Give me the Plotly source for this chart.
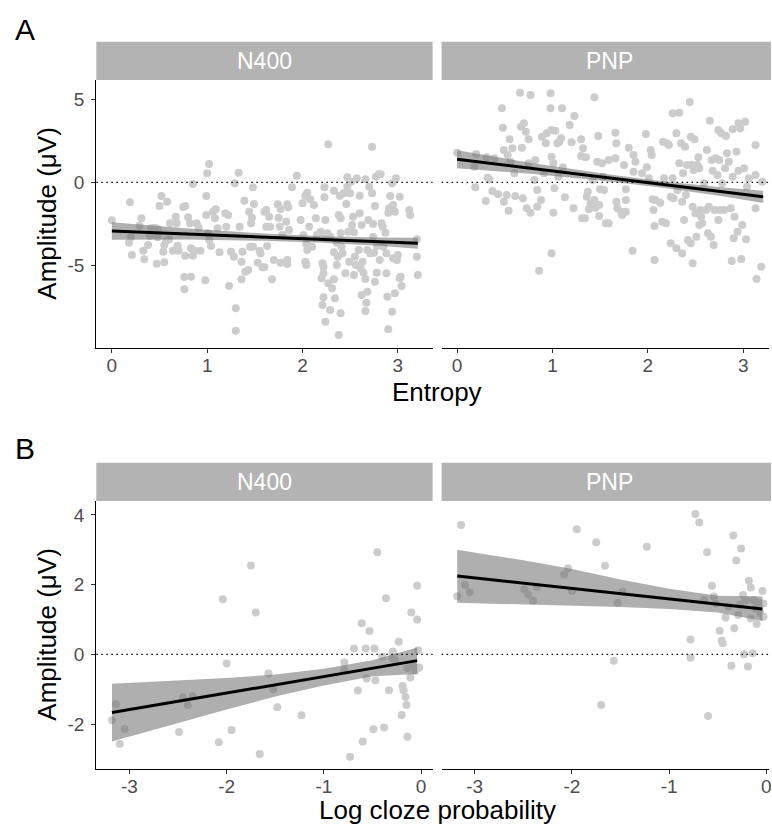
import plotly.graph_objects as go

# ---------------- data ----------------
# Panel A, N400 vs entropy
n400_entropy_x = [
    0.00,0.19,0.31,0.29,0.20,0.18,0.21,0.33,0.34,0.38,
    0.40,0.41,0.45,0.48,0.48,0.47,0.50,0.52,0.55,0.54,
    0.55,0.57,0.58,0.60,0.61,0.64,0.67,0.68,0.69,0.70,
    0.75,0.77,0.76,0.83,0.76,0.77,0.80,0.82,0.83,0.85,
    0.87,0.85,0.89,0.91,0.93,0.98,0.99,1.00,1.02,0.99,
    1.01,1.02,1.04,1.06,1.08,1.09,1.11,1.13,1.19,1.22,
    1.20,1.23,1.25,1.28,1.29,1.33,1.30,1.30,1.34,1.36,
    1.37,1.36,1.39,1.40,1.43,1.44,1.45,1.46,1.47,1.48,
    1.48,1.49,1.53,1.55,1.56,1.58,1.62,1.62,
    1.60,1.65,1.66,1.63,1.60,1.68,1.74,1.75,1.76,1.77,
    1.79,1.84,1.85,1.83,1.86,1.70,1.77,1.84,1.84,1.89,
    1.94,1.98,2.00,2.01,2.03,2.04,2.05,2.05,2.07,2.08,
    2.10,2.12,2.03,2.04,2.14,2.15,2.19,2.21,2.22,2.22,
    2.20,2.23,2.23,2.24,2.24,2.26,2.27,2.29,2.27,2.31,
    2.33,2.33,2.34,2.36,2.37,2.36,2.22,2.21,2.29,2.24,
    2.33,2.38,2.39,2.40,2.40,2.41,2.42,2.43,2.40,2.38,
    2.45,2.46,2.47,2.47,2.48,2.49,2.50,2.51,2.52,2.53,
    2.54,2.54,2.55,2.56,2.57,2.59,2.60,2.60,2.61,2.62,
    2.63,2.64,2.62,2.66,2.66,2.67,2.68,2.68,2.69,2.70,
    2.66,2.71,2.73,2.73,2.74,2.74,2.75,2.76,2.76,2.77,
    2.78,2.78,2.80,2.81,2.82,2.83,2.84,2.85,2.87,2.88,
    2.88,2.89,2.90,2.91,2.92,2.94,2.94,2.95,2.95,2.97,
    2.98,2.99,3.00,3.02,2.97,3.02,3.03,3.04,2.90,3.12,
    3.13,3.20,3.20,3.21,
]
n400_entropy_y = [
    -2.28,-1.2,-2.16,-2.6,-3.3,-3.62,-4.36,-4.1,-4.62,-3.76,
    -3.22,-2.76,-2.72,-2.8,-3.3,-4.88,-1.42,-0.82,-4.8,-4.16,
    -3.76,-3.52,-1.16,-3.42,-2.46,-4.1,-2.06,-2.46,-3.8,-4.1,
    -1.48,-1.42,-5.68,-5.66,-6.42,-4.4,-2.1,-2.46,-3.96,-4.4,
    -4.1,-0.1,-2.46,-2.72,-4.1,-5.88,-0.82,0.54,1.1,-1.96,
    -3.06,-3.46,-3.82,-1.76,-2.16,-1.62,-2.76,-4.2,-1.86,-1.96,
    -2.66,-6.22,-4.16,-4.46,-0.06,0.58,-7.56,-8.9,-2.66,-4.76,
    -4.16,-5.82,-1.1,-5.36,-5.26,-1.76,-3.86,-2.46,-2.12,-3.86,
    -0.3,-1.3,-4.82,-4.1,-4.26,-5.1,-1.66,-2.66,
    -1.76,-2.06,-2.66,-3.82,-5.1,-5.82,-1.32,-2.12,-2.66,-1.6,
    -3.16,-1.32,-1.5,-2.36,-2.86,-4.66,-4.82,-4.66,-4.9,-0.3,
    0.4,-2.26,-1.26,-3.16,-0.82,-3.72,-4.06,-0.62,-2.66,-1.02,
    -3.86,-1.36,-4.76,-4.96,-2.16,-3.16,-2.96,-4.86,-5.06,-5.46,
    -5.76,-0.3,-0.9,-2.26,-3.26,-3.06,2.28,-3.26,-6.06,-6.36,
    -5.82,-4.2,-6.96,-4.96,-4.46,-3.62,-6.9,-7.36,-7.66,-8.36,
    -0.5,-1.96,-0.8,-3.06,-2.16,-3.86,-4.26,-0.66,-7.86,-9.16,
    -5.46,-1.3,-0.26,0.3,-2.96,-4.76,-0.66,0.04,-2.56,-2.06,
    -5.56,-3.0,-4.46,-4.96,0.24,-4.06,-1.86,-0.8,-5.16,-2.56,
    -4.76,-5.42,-6.76,0.18,-5.8,-7.22,-4.06,-6.56,-2.26,-0.26,
    -7.72,-4.26,2.14,-0.66,-2.5,-3.26,-4.22,-1.42,-5.96,0.34,
    -5.42,-3.82,0.48,-4.66,0.48,-2.46,-2.66,-3.86,-3.02,-5.46,
    -4.26,-6.86,-1.82,-1.56,-0.82,-7.76,-0.06,-4.56,-1.36,-1.76,
    0.24,-4.66,-4.36,-5.76,-6.66,-0.86,-5.66,-6.22,-8.82,-1.66,
    -1.96,-3.42,-4.46,-5.56,
]
# Panel A, PNP vs entropy
pnp_entropy_x = [
    0.00,0.18,0.20,0.19,0.30,0.32,0.34,0.31,0.37,0.39,
    0.43,0.47,0.48,0.49,0.49,0.52,0.53,0.54,0.55,0.56,
    0.58,0.60,0.61,0.66,0.67,0.68,0.69,0.70,0.72,0.73,
    0.75,0.75,0.77,0.77,0.81,0.82,0.84,0.86,0.84,0.88,
    0.89,0.91,0.93,0.94,0.98,0.98,0.99,0.99,0.99,1.01,
    1.02,1.01,1.03,1.05,1.06,1.07,1.09,1.10,1.11,1.13,
    1.18,1.20,1.22,1.23,1.30,1.30,1.31,1.32,1.34,1.35,
    1.36,1.37,1.38,1.40,1.42,1.44,1.44,1.45,1.47,1.48,
    1.49,1.49,1.50,1.52,1.56,
    1.53,1.54,1.59,1.59,1.66,1.67,1.66,1.67,1.68,1.72,
    1.73,1.77,1.75,1.77,1.77,1.80,1.84,1.85,1.85,1.87,
    1.94,1.98,1.99,2.01,2.03,2.04,2.05,2.06,2.07,2.07,
    2.08,2.13,2.15,2.16,2.17,2.19,2.20,2.22,2.24,2.24,
    2.26,2.26,2.27,2.30,2.30,2.31,2.33,2.33,2.35,2.36,
    2.36,2.37,2.38,2.39,2.40,2.41,2.42,2.44,2.45,2.45,
    2.46,2.47,2.47,2.48,2.49,2.50,2.51,2.52,2.53,2.54,
    2.54,2.55,2.56,2.57,2.59,2.61,2.62,2.63,2.64,2.65,
    2.66,2.67,2.68,2.69,2.70,2.71,2.73,2.74,2.74,2.75,
    2.76,2.77,2.78,2.80,2.81,2.82,2.83,2.85,2.87,2.88,
    2.89,2.89,2.90,2.91,2.93,2.94,2.95,2.95,2.97,2.98,
    2.99,3.01,3.02,3.03,3.04,3.06,3.13,3.13,3.13,3.14,
    3.19,3.20,
]
pnp_entropy_y = [
    1.78,0.94,1.7,-0.3,-1.12,0.28,0.18,1.5,-0.52,1.44,
    -0.72,4.44,3.28,-1.16,1.94,-0.76,1.64,-1.7,2.58,1.24,
    2.04,0.54,-0.82,5.38,3.34,2.08,-0.96,3.54,3.04,-1.56,
    1.14,2.58,-1.82,5.24,0.14,1.34,-1.46,-5.3,-0.46,-1.06,
    2.74,0.54,2.34,2.94,5.34,4.44,1.54,-4.26,3.14,-1.82,
    -0.36,1.14,3.1,2.34,0.34,2.44,2.64,4.44,0.9,-0.9,
    3.44,2.4,-1.56,3.98,2.58,1.58,-2.16,2.04,-2.16,1.5,
    -0.86,-0.56,-1.62,-1.26,0.14,-1.06,5.1,-1.52,1.24,2.78,
    -1.36,-2.02,-0.42,1.14,-2.46,
    0.34,-0.46,-2.46,1.34,2.98,2.34,1.44,-1.16,-1.56,-1.76,
    -1.96,-1.76,1.04,-1.06,-0.42,2.08,-4.1,1.64,0.64,1.24,
    0.54,2.9,0.9,0.24,1.94,1.64,-1.02,-1.66,-2.62,-4.66,
    -1.06,-1.22,-2.36,2.44,0.24,-2.46,2.34,2.24,-0.86,-3.66,
    4.14,0.24,-0.96,-3.96,2.94,-0.46,4.18,1.14,2.34,-4.26,
    -1.16,0.54,-2.26,2.14,-0.76,1.04,-3.46,4.82,2.74,-3.66,
    1.04,-1.46,-4.86,0.74,2.58,-1.86,-3.26,1.04,1.5,-2.56,
    0.84,-1.66,-2.06,-2.46,-0.06,-1.66,1.94,-3.06,-1.46,3.7,
    -3.26,1.34,0.7,-3.76,-1.66,1.44,0.44,-2.26,3.14,1.34,
    -1.66,2.94,-0.06,-1.66,0.84,2.78,1.74,1.24,-1.56,-4.72,
    3.18,0.34,-3.36,-2.06,1.84,-2.96,3.54,0.7,3.24,-4.6,
    -2.56,0.84,3.64,-3.42,-0.26,0.24,2.24,0.44,-1.56,-5.8,
    -5.06,0.04,
]
# Panel B, N400 vs log cloze probability
n400_cloze_x = [
    -3.18,-3.14,-3.10,-3.05,-2.49,-2.45,-2.40,-2.35,-2.08,-2.04,
    -2.00,-1.95,-1.75,-1.70,-1.66,-1.57,-1.52,-1.48,-1.23,-0.79,
    -0.79,-0.73,-0.69,-0.65,-0.61,-0.60,-0.57,-0.56,-0.53,-0.49,
    -0.48,-0.47,-0.45,-0.40,-0.38,-0.36,-0.33,-0.30,-0.29,-0.27,
    -0.23,-0.20,-0.19,-0.18,-0.16,-0.15,-0.14,-0.14,-0.11,-0.10,
    -0.08,-0.04,-0.04,-0.03,-0.04,-0.06,-0.02,
]
n400_cloze_y = [
    -1.89,-1.43,-2.57,-2.14,-2.23,-1.23,-1.45,-1.2,-2.52,1.58,
    -0.26,-2.17,2.55,1.2,-2.86,-0.55,-1.0,-1.52,-1.75,-0.23,
    -0.45,-2.94,0.17,-1.04,0.89,-2.5,0.17,-0.69,0.67,-2.15,
    0.17,-0.74,2.93,-0.07,-2.1,1.61,-1.03,-0.09,0.08,-0.16,
    0.36,-1.74,-0.91,-1.04,-1.22,-1.45,-2.36,-0.4,-0.66,1.2,
    -0.35,1.97,1.0,0.12,-0.4,-0.47,-0.38,
]
# Panel B, PNP vs log cloze probability
pnp_cloze_x = [
    -3.18,-3.14,-3.10,-3.05,-2.49,-2.45,-2.40,-2.36,-2.08,-2.04,
    -2.00,-1.95,-1.75,-1.70,-1.66,-1.57,-1.53,-1.48,-1.23,-0.78,
    -0.78,-0.73,-0.69,-0.64,-0.61,-0.60,-0.56,-0.54,-0.52,-0.48,
    -0.46,-0.45,-0.42,-0.39,-0.36,-0.34,-0.33,-0.31,-0.29,-0.27,
    -0.26,-0.24,-0.23,-0.21,-0.19,-0.18,-0.16,-0.16,-0.14,-0.13,
    -0.11,-0.10,-0.08,-0.06,-0.04,-0.03,-0.03,
]
pnp_cloze_y = [
    1.67,3.71,1.99,1.78,1.87,1.72,1.54,1.94,2.29,2.47,
    1.82,3.59,3.22,-1.45,2.54,-0.18,1.48,1.8,3.09,0.43,
    -0.1,4.03,3.78,1.56,2.93,-1.77,1.97,1.66,1.46,0.68,
    0.39,0.32,1.06,1.37,-0.33,3.41,0.75,2.69,1.13,1.42,
    3.04,1.7,0.0,1.56,-0.35,2.11,1.92,1.03,0.03,1.56,
    1.32,0.87,1.48,1.18,1.82,1.46,1.08,
]

# fitted lines and confidence bands
entropy_fit_x = [0.0, 0.8, 1.6, 2.2, 2.8, 3.21]
n400_entropy_fit = [-2.92, -3.10, -3.29, -3.43, -3.56, -3.66]
n400_entropy_upper = [-2.40, -2.77, -3.07, -3.23, -3.31, -3.33]
n400_entropy_lower = [-3.44, -3.43, -3.51, -3.63, -3.81, -3.99]
pnp_entropy_fit = [1.38, 0.82, 0.26, -0.16, -0.58, -0.87]
pnp_entropy_upper = [1.92, 1.14, 0.47, 0.04, -0.31, -0.50]
pnp_entropy_lower = [0.84, 0.50, 0.05, -0.36, -0.85, -1.24]

cloze_fit_x = [-3.18, -2.5, -2.0, -1.5, -1.0, -0.5, -0.04]
n400_cloze_fit = [-1.67, -1.35, -1.11, -0.87, -0.64, -0.40, -0.18]
n400_cloze_upper = [-0.84, -0.76, -0.68, -0.58, -0.41, -0.17, 0.20]
n400_cloze_lower = [-2.50, -1.97, -1.58, -1.21, -0.89, -0.63, -0.56]
pnp_cloze_fit = [2.25, 2.04, 1.89, 1.74, 1.59, 1.44, 1.30]
pnp_cloze_upper = [3.00, 2.70, 2.45, 2.15, 1.88, 1.68, 1.66]
pnp_cloze_lower = [1.48, 1.44, 1.40, 1.36, 1.30, 1.20, 0.96]

entropy_ticks = [0, 1, 2, 3]
cloze_ticks = [-3, -2, -1, 0]
cloze_tick_text = ["-3", "-2", "-1", "0"]
amp_ticks_a = [-5, 0, 5]
amp_tick_text_a = ["-5", "0", "5"]
amp_ticks_b = [-2, 0, 2, 4]
amp_tick_text_b = ["-2", "0", "2", "4"]
facet_labels = ["N400", "PNP"]

# ---------------- figure ----------------
W, H = 772, 825
FONT = "Liberation Sans, Arial, sans-serif"
POINT_COL = "#cccccc"
BAND_COL = "rgba(110,110,110,0.55)"


def fx(p):
    return p / W


def fy(p):
    return 1 - p / H


LX0, LX1 = 96.7, 434.3
RX0 = 443.3
TY0, TY1 = 80.0, 347.7
BY0, BY1 = 501.0, 768.7

fig = go.Figure()

panels = [
    ("x", "y", n400_entropy_x, n400_entropy_y, entropy_fit_x, n400_entropy_fit, n400_entropy_upper, n400_entropy_lower),
    ("x2", "y2", pnp_entropy_x, pnp_entropy_y, entropy_fit_x, pnp_entropy_fit, pnp_entropy_upper, pnp_entropy_lower),
    ("x3", "y3", n400_cloze_x, n400_cloze_y, cloze_fit_x, n400_cloze_fit, n400_cloze_upper, n400_cloze_lower),
    ("x4", "y4", pnp_cloze_x, pnp_cloze_y, cloze_fit_x, pnp_cloze_fit, pnp_cloze_upper, pnp_cloze_lower),
]

for xa, ya, px, py, fxv, fit, up, lo in panels:
    fig.add_trace(go.Scatter(x=px, y=py, mode="markers", xaxis=xa, yaxis=ya,
                             marker=dict(size=8, color=POINT_COL, line=dict(width=0)),
                             hoverinfo="skip", cliponaxis=True))
    fig.add_trace(go.Scatter(x=fxv + fxv[::-1], y=up + lo[::-1], mode="lines", xaxis=xa, yaxis=ya,
                             fill="toself", fillcolor=BAND_COL, line=dict(width=0),
                             hoverinfo="skip"))
    fig.add_trace(go.Scatter(x=fxv, y=fit, mode="lines", xaxis=xa, yaxis=ya,
                             line=dict(color="black", width=3), hoverinfo="skip"))

base_axis = dict(showgrid=False, zeroline=False, showline=True, linecolor="black", linewidth=1.2,
                 ticks="outside", ticklen=4, tickwidth=1, tickcolor="#333333",
                 tickfont=dict(size=19, color="#4d4d4d", family=FONT), fixedrange=True)
x_axis = dict(base_axis, ticklabelstandoff=-4, ticklabeloverflow="allow")
y_axis = dict(base_axis, ticklabelstandoff=3)

fig.update_layout(
    width=W, height=H, margin=dict(l=0, r=0, t=0, b=0),
    paper_bgcolor="white", plot_bgcolor="white", showlegend=False,
    font=dict(family=FONT),
    xaxis=dict(x_axis, domain=[fx(LX0), fx(LX1)], anchor="y", range=[-0.163, 3.365], tickvals=entropy_ticks),
    yaxis=dict(y_axis, domain=[fy(TY1), fy(TY0)], anchor="x", range=[-9.92, 6.14],
               tickvals=amp_ticks_a, ticktext=amp_tick_text_a),
    xaxis2=dict(x_axis, domain=[fx(RX0), 1.0], anchor="y2", range=[-0.163, 3.271], tickvals=entropy_ticks),
    yaxis2=dict(domain=[fy(TY1), fy(TY0)], anchor="x2", range=[-9.92, 6.14], visible=False, fixedrange=True),
    xaxis3=dict(x_axis, domain=[fx(LX0), fx(LX1)], anchor="y3", range=[-3.341, 0.119],
                tickvals=cloze_ticks, ticktext=cloze_tick_text),
    yaxis3=dict(y_axis, domain=[fy(BY1), fy(BY0)], anchor="x3", range=[-3.28, 4.40],
                tickvals=amp_ticks_b, ticktext=amp_tick_text_b),
    xaxis4=dict(x_axis, domain=[fx(RX0), 1.0], anchor="y4", range=[-3.341, 0.027],
                tickvals=cloze_ticks, ticktext=cloze_tick_text),
    yaxis4=dict(domain=[fy(BY1), fy(BY0)], anchor="x4", range=[-3.28, 4.40], visible=False, fixedrange=True),
)

shapes = []
annotations = []

# facet strips
for (sx0, sx1), (sy0, sy1) in [((LX0, LX1), (41.7, TY0)), ((RX0, W + 2), (41.7, TY0)),
                               ((LX0, LX1), (462.7, BY0)), ((RX0, W + 2), (462.7, BY0))]:
    shapes.append(dict(type="rect", xref="paper", yref="paper", x0=fx(sx0), x1=fx(sx1),
                       y0=fy(sy1), y1=fy(sy0), fillcolor="#b3b3b3", line=dict(width=0), layer="below"))
for cx, cy, lab in [((LX0 + LX1) / 2, 61.0, facet_labels[0]), (612.0, 61.0, facet_labels[1]),
                    ((LX0 + LX1) / 2, 482.0, facet_labels[0]), (612.0, 482.0, facet_labels[1])]:
    annotations.append(dict(text=lab, xref="paper", yref="paper", x=fx(cx), y=fy(cy),
                            xanchor="center", yanchor="middle", showarrow=False,
                            font=dict(size=23, color="white", family=FONT)))

# dotted zero lines
for xa, ya in [("x", "y"), ("x2", "y2"), ("x3", "y3"), ("x4", "y4")]:
    shapes.append(dict(type="line", xref=xa + " domain", yref=ya, x0=0, x1=1, y0=0, y1=0,
                       line=dict(color="black", width=1.2, dash="1.5px,3.5px"), layer="above"))

# axis titles
for cy in [(TY0 + TY1) / 2, (BY0 + BY1) / 2]:
    annotations.append(dict(text="Amplitude (μV)", xref="paper", yref="paper", x=fx(47), y=fy(cy),
                            xanchor="center", yanchor="middle", textangle=-90, showarrow=False,
                            font=dict(size=26, color="black", family=FONT)))
annotations.append(dict(text="Entropy", xref="paper", yref="paper", x=fx(439), y=fy(392),
                        xanchor="center", yanchor="middle", showarrow=False,
                        font=dict(size=26, color="black", family=FONT)))
annotations.append(dict(text="Log cloze probability", xref="paper", yref="paper", x=fx(439), y=fy(810),
                        xanchor="center", yanchor="middle", showarrow=False,
                        font=dict(size=26, color="black", family=FONT)))

# panel letters
annotations.append(dict(text="A", xref="paper", yref="paper", x=fx(25), y=fy(29),
                        xanchor="center", yanchor="middle", showarrow=False,
                        font=dict(size=30, color="black", family=FONT)))
annotations.append(dict(text="B", xref="paper", yref="paper", x=fx(25), y=fy(449),
                        xanchor="center", yanchor="middle", showarrow=False,
                        font=dict(size=30, color="black", family=FONT)))

fig.update_layout(shapes=shapes, annotations=annotations)

fig.write_html("out.html", config={"displayModeBar": False},
               post_script="document.body.style.margin='0';document.body.style.overflow='hidden';")
